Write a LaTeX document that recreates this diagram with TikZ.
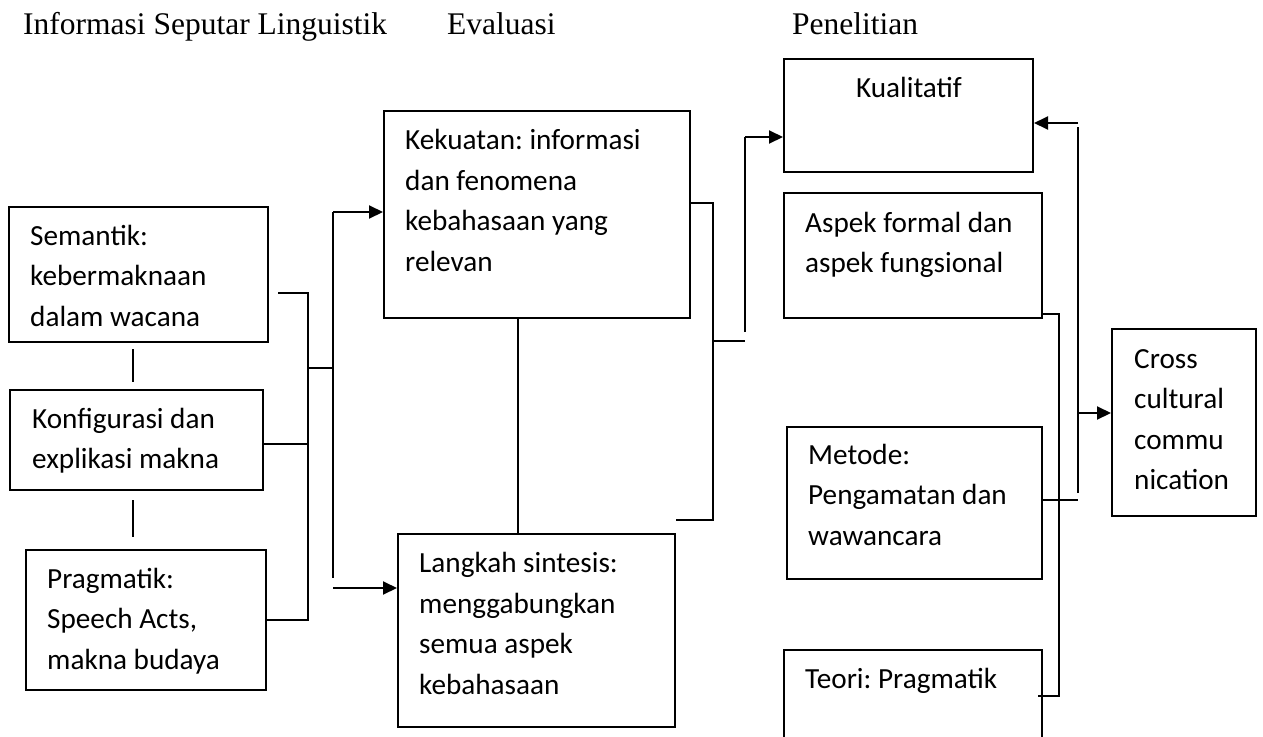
\documentclass[tikz,border=0pt]{standalone}
\usepackage{fontspec}
\setmainfont{Liberation Serif}
\newfontfamily\bodyfont{Carlito}
\usetikzlibrary{arrows.meta}
\frenchspacing
\tikzset{
  box/.style={draw, line width=2pt, inner sep=0pt, rectangle},
  txt/.style={inner sep=0pt, align=left, font=\bodyfont\fontsize{29.2}{40.5}\selectfont\frenchspacing},
  ttl/.style={inner sep=0pt, font=\fontsize{31.5}{36}\selectfont},
  ln/.style={line width=2pt},
  arr/.style={line width=2pt, -{Triangle[length=14pt,width=13pt]}}
}
\begin{document}
\begin{tikzpicture}[x=1pt,y=-1pt]
\useasboundingbox (0,0) rectangle (1263,736);
\fill[white] (0,0) rectangle (1263,736);
\clip (0,0) rectangle (1263,736);
% titles
\node[ttl, anchor=base west] (t1) at (23,34) {Informasi Seputar Linguistik};
\node[ttl, anchor=base west] (t2) at (447,34) {Evaluasi};
\node[ttl, anchor=base west] (t3) at (792,34) {Penelitian};
% boxes
\node[box, minimum width=259pt, minimum height=135pt] (sem) at (138.5,274.5) {};
\node[box, minimum width=253pt, minimum height=100pt] (konf) at (136.5,440) {};
\node[box, minimum width=240pt, minimum height=140pt] (prag) at (146,620) {};
\node[box, minimum width=306pt, minimum height=207pt] (kek) at (537,214.5) {};
\node[box, minimum width=277pt, minimum height=193pt] (lang) at (536.5,630.5) {};
\node[box, minimum width=249pt, minimum height=113pt] (kual) at (908.5,115.5) {};
\node[box, minimum width=258pt, minimum height=125pt] (aspek) at (913,255.5) {};
\node[box, minimum width=255pt, minimum height=152pt] (metode) at (914.5,503) {};
\node[box, minimum width=258pt, minimum height=110pt] (teori) at (913,705) {};
\node[box, minimum width=144pt, minimum height=187pt] (cross) at (1184,422.5) {};
% texts (anchor = baseline of last line)
\node[txt, anchor=base west] (semT) at (30,326) {Semantik:\\kebermaknaan\\dalam wacana};
\node[txt, anchor=base west] (konfT) at (32,468.5) {Konfigurasi dan\\explikasi makna};
\node[txt, anchor=base west] (pragT) at (47,669) {Pragmatik:\\Speech Acts,\\makna budaya};
\node[txt, anchor=base west] (kekT) at (405,271) {Kekuatan: informasi\\dan fenomena\\kebahasaan yang\\relevan};
\node[txt, anchor=base west] (langT) at (419,694) {Langkah sintesis:\\menggabungkan\\semua aspek\\kebahasaan};
\node[txt, anchor=base] (kualT) at (909,97) {Kualitatif};
\node[txt, anchor=base west] (aspekT) at (805,272.5) {Aspek formal dan\\aspek fungsional};
\node[txt, anchor=base west] (metodeT) at (808,545) {Metode:\\Pengamatan dan\\wawancara};
\node[txt, anchor=base west] (teoriT) at (805,688) {Teori: Pragmatik};
\node[txt, anchor=base west] (crossT) at (1134,489.5) {Cross\\cultural\\commu\\nication};
% left column links
\coordinate (v1a) at (133,349); \coordinate (v1b) at (133,382);
\coordinate (v2a) at (133,500); \coordinate (v2b) at (133,537);
\draw[ln] (v1a) -- (v1b);
\draw[ln] (v2a) -- (v2b);
% left bracket
\coordinate (b1) at (278,293); \coordinate (b2) at (308,293);
\coordinate (b3) at (308,620);
\coordinate (bm) at (308,368); \coordinate (bj) at (333,368);
\draw[ln] (b1) -- (b2) -- (b3) -- (b3 -| prag.east);
\draw[ln] (konf.east |- 0,444) -- (308,444);
\draw[ln] (bm) -- (bj);
\coordinate (s1) at (333,212); \coordinate (s2) at (333,578);
\coordinate (s3) at (333,588);
\draw[ln] (s1) -- (s2);
\draw[arr] (s1) -- (s1 -| kek.west);
\draw[arr] (s3) -- (s3 -| lang.west);
% middle
\draw[ln] (kek.south -| 518,0) -- (lang.north -| 518,0);
% right of kek
\coordinate (r1) at (713,203); \coordinate (r2) at (713,520); \coordinate (r3) at (676,520);
\draw[ln] (r1 -| kek.east) -- (r1) -- (r2) -- (r3);
\coordinate (rm) at (713,341); \coordinate (rj) at (745,341);
\draw[ln] (rm) -- (rj);
\coordinate (q1) at (745,332); \coordinate (q2) at (745,137);
\draw[ln] (q1) -- (q2);
\draw[arr] (q2) -- (q2 -| kual.west);
% right bracket
\coordinate (p1) at (1059,314); \coordinate (p2) at (1059,696); \coordinate (p3) at (1038,696);
\draw[ln] (p1 -| aspek.east) -- (p1) -- (p2) -- (p3);
\coordinate (m1) at (1078,500);
\draw[ln] (m1 -| metode.east) -- (m1);
\coordinate (u1) at (1078,493); \coordinate (u2) at (1078,127); \coordinate (u3) at (1078,123);
\coordinate (u4) at (1078,413);
\draw[ln] (u1) -- (u2);
\draw[arr] (u3) -- (u3 -| kual.east);
\draw[arr] (u4) -- (u4 -| cross.west);
\end{tikzpicture}
\end{document}
